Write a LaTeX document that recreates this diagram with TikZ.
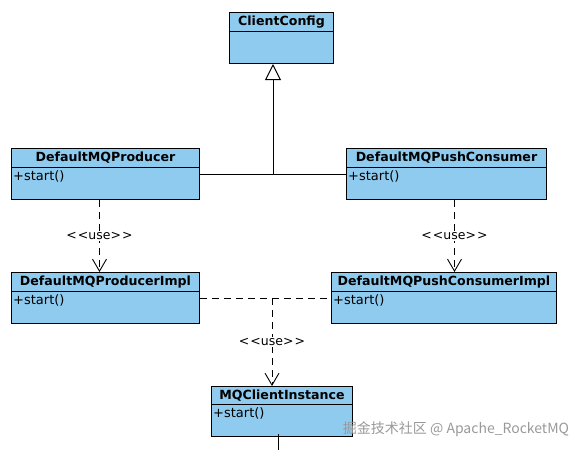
\documentclass[tikz,border=0pt]{standalone}
\usepackage{fontspec}
\setmainfont{DejaVu Sans}
\newfontfamily\cjkfont{Noto Sans CJK SC}
\usetikzlibrary{arrows.meta}
\definecolor{umlblue}{RGB}{143,203,238}

\begin{document}
\begin{tikzpicture}[x=1pt, y=-1pt,
	classhead/.style={rectangle, draw=black, fill=umlblue, line width=1pt, anchor=north west, minimum height=19pt, inner sep=0pt, font=\bfseries\fontsize{12.6}{14}\selectfont},
	classbody/.style={rectangle, draw=black, fill=umlblue, line width=1pt, anchor=north west, minimum height=32pt, inner sep=0pt},
	method/.style={anchor=north west, inner xsep=2pt, inner ysep=3.5pt, font=\fontsize{13}{15}\selectfont},
	usedep/.style={line width=0.9pt, dash pattern=on 7pt off 5pt, -{Straight Barb[length=12pt,width=14pt]}},
	uselabel/.style={fill=white, inner sep=1.5pt, font=\fontsize{12.5}{14}\selectfont}
]
	\useasboundingbox (0,0) rectangle (582,450);

	% Super class
	\node[classhead, minimum width=104pt] (config) at (229,12) {ClientConfig};
	\node[classbody, minimum width=104pt] (configbody) at (229,31) {};

	% Client classes
	\node[classhead, minimum width=188pt] (producer) at (11,148) {DefaultMQProducer};
	\node[classbody, minimum width=188pt] (producerbody) at (11,167) {};
	\node[method] at (producerbody.north west) {+start()};

	\node[classhead, minimum width=200pt] (consumer) at (346,148) {DefaultMQPushConsumer};
	\node[classbody, minimum width=200pt] (consumerbody) at (346,167) {};
	\node[method] at (consumerbody.north west) {+start()};

	% Impl classes
	\node[classhead, minimum width=188pt] (producerimpl) at (11,272) {DefaultMQProducerImpl};
	\node[classbody, minimum width=188pt] (producerimplbody) at (11,291) {};
	\node[method] at (producerimplbody.north west) {+start()};

	\node[classhead, minimum width=225pt] (consumerimpl) at (331,272) {DefaultMQPushConsumerImpl};
	\node[classbody, minimum width=225pt] (consumerimplbody) at (331,291) {};
	\node[method] at (consumerimplbody.north west) {+start()};

	% Shared instance
	\node[classhead, minimum width=141pt] (client) at (211,386) {MQClientInstance};
	\node[classbody, minimum width=141pt] (clientbody) at (211,404) {};
	\node[method] at (clientbody.north west) {+start()};

	% Generalization
	\coordinate (join) at (273,174);
	\draw[line width=1pt] (producerbody.east |- join) -- (consumerbody.west |- join);
	\draw[line width=1pt, -{Triangle[open, length=16pt, width=16pt]}] (join) -- (configbody.south -| join);

	% Usage
	\draw[usedep] ([xshift=-6pt]producerbody.south) -- node[uselabel] {<\kern1pt<use>\kern1pt>} ([xshift=-6pt]producerimpl.north);
	\draw[usedep] ([xshift=8pt]consumerbody.south) -- node[uselabel] {<\kern1pt<use>\kern1pt>} ([xshift=10.5pt]consumerimpl.north);

	\coordinate (fork) at (272,298);
	\draw[line width=0.9pt, dash pattern=on 7pt off 5pt] (producerimplbody.east |- fork) -- (consumerimplbody.west |- fork);
	\draw[usedep] (fork) -- node[uselabel] {<\kern1pt<use>\kern1pt>} (fork |- client.north);

	\coordinate (cut) at (278,450);
	\draw[line width=0.9pt] ([yshift=3pt]clientbody.south -| cut) -- (cut);

	% Watermark
	\node[text=black!40, font=\cjkfont\fontsize{14}{16}\selectfont] (mark) at (456,429) {掘金技术社区 @ Apache\_RocketMQ};
\end{tikzpicture}
\end{document}
